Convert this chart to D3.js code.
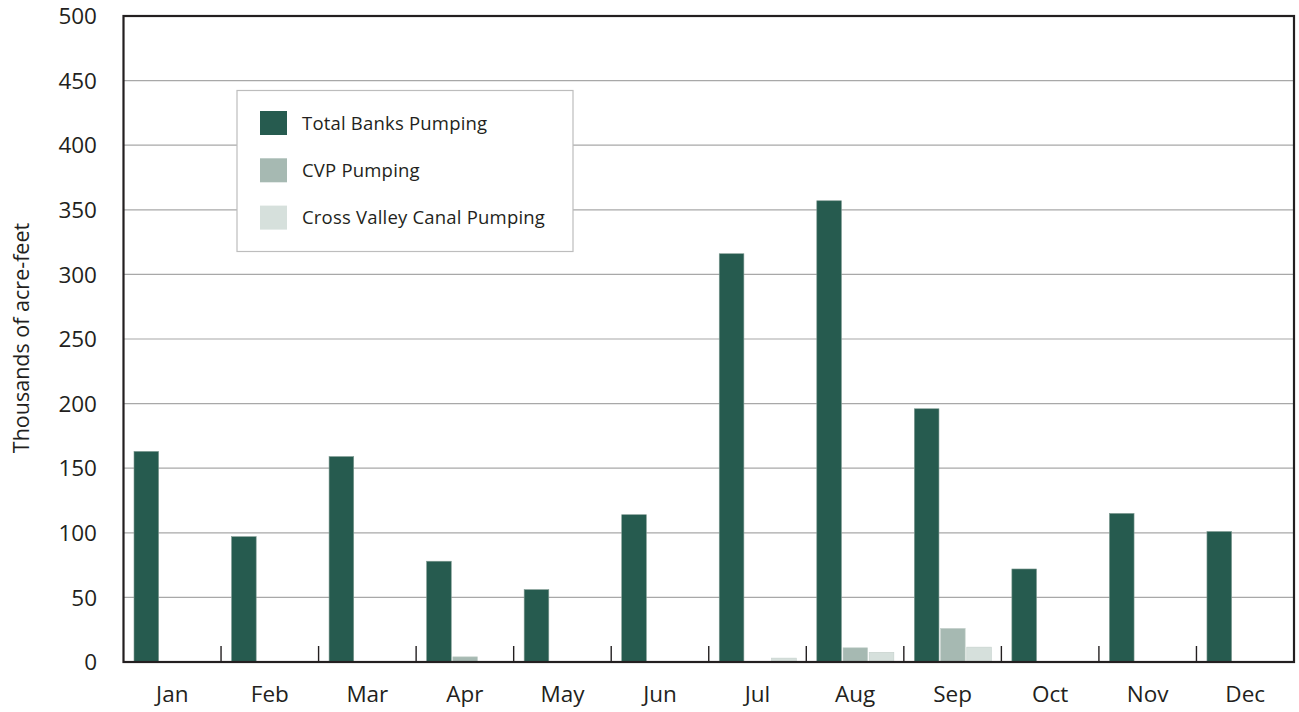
<!DOCTYPE html>
<html><head><meta charset="utf-8">
<script src="https://cdn.jsdelivr.net/npm/d3@7"></script>
<style>body{margin:0;background:#fff}svg{display:block}</style>
</head><body><svg id="c" width="1299" height="712"></svg>
<script>
const months = ["Jan","Feb","Mar","Apr","May","Jun","Jul","Aug","Sep","Oct","Nov","Dec"];
const seriesNames = ["Total Banks Pumping","CVP Pumping","Cross Valley Canal Pumping"];
const totalBanks = [163,97,159,78,56,114,316,357,196,72,115,101];
const cvp = [0,0,0,4,0,0,0,11,26,0,0,0];
const crossValley = [0,0,0,0,0,0,3,7.5,11.5,0,0,0];
const yTicks = [0,50,100,150,200,250,300,350,400,450,500];
const colors = ["#265b4f","#a6b9b2","#d6e0dc"];

const svg = d3.select("#c");
const m = {l:123.5, t:16, r:1294, b:662};
const x = d3.scaleBand().domain(months).range([m.l, m.r]).paddingInner(0).paddingOuter(0);
const y = d3.scaleLinear().domain([0,500]).range([m.b, m.t]);
const inner = d3.scaleBand().domain([0,1,2]).range([10.5, x.bandwidth()-10]).paddingInner(0.06);
const font = "'Open Sans', sans-serif";

// gridlines
svg.append("g").selectAll("line").data(yTicks.filter(d=>d>0 && d<500)).join("line")
  .attr("x1", m.l).attr("x2", m.r).attr("y1", d=>y(d)).attr("y2", d=>y(d))
  .attr("stroke","#a8a8a8").attr("stroke-width",1.2);

// bars
const data = [totalBanks, cvp, crossValley];
months.forEach((mo,i)=>{
  data.forEach((s,j)=>{
    if (s[i] <= 0) return;
    svg.append("rect")
      .attr("x", x(mo)+inner(j)).attr("width", inner.bandwidth())
      .attr("y", y(s[i])).attr("height", y(0)-y(s[i]))
      .attr("fill", colors[j]).attr("stroke", j===0?"#7f9a92":"#c4d0cb").attr("stroke-width",0.6);
  });
});

// frame
svg.append("rect").attr("x", m.l).attr("y", m.t).attr("width", m.r-m.l).attr("height", m.b-m.t)
  .attr("fill","none").attr("stroke","#231f20").attr("stroke-width",2.2);

// x ticks at band boundaries
svg.append("g").selectAll("line").data(months.slice(1)).join("line")
  .attr("x1", d=>x(d)).attr("x2", d=>x(d)).attr("y1", m.b).attr("y2", m.b-16)
  .attr("stroke","#231f20").attr("stroke-width",1.4);

// y labels
svg.append("g").selectAll("text").data(yTicks).join("text")
  .attr("x", 97).attr("y", d=>y(d)).attr("dy","0.36em").attr("text-anchor","end")
  .attr("font-family", font).attr("font-size", 22.5).attr("fill","#231f20").text(d=>d);

// x labels
svg.append("g").selectAll("text").data(months).join("text")
  .attr("x", d=>x(d)+x.bandwidth()/2).attr("y", 702).attr("text-anchor","middle")
  .attr("font-family", font).attr("font-size", 22.5).attr("fill","#231f20").text(d=>d);

// y title
svg.append("text").attr("transform","translate(29,338) rotate(-90)").attr("text-anchor","middle")
  .attr("font-family", font).attr("font-size", 21.5).attr("fill","#231f20").text("Thousands of acre-feet");

// legend
const lg = svg.append("g");
lg.append("rect").attr("x",237).attr("y",90.5).attr("width",336).attr("height",161)
  .attr("fill","#fff").attr("stroke","#bdbdbd").attr("stroke-width",1.2);
seriesNames.forEach((n,i)=>{
  const yy = 111 + i*47.3;
  lg.append("rect").attr("x",260).attr("y",yy).attr("width",27).attr("height",24).attr("fill",colors[i]);
  lg.append("text").attr("x",302).attr("y",yy+12).attr("dy","0.36em")
    .attr("font-family", font).attr("font-size",18.5).attr("letter-spacing",0.2).attr("fill","#231f20").text(n);
});
</script></body></html>
